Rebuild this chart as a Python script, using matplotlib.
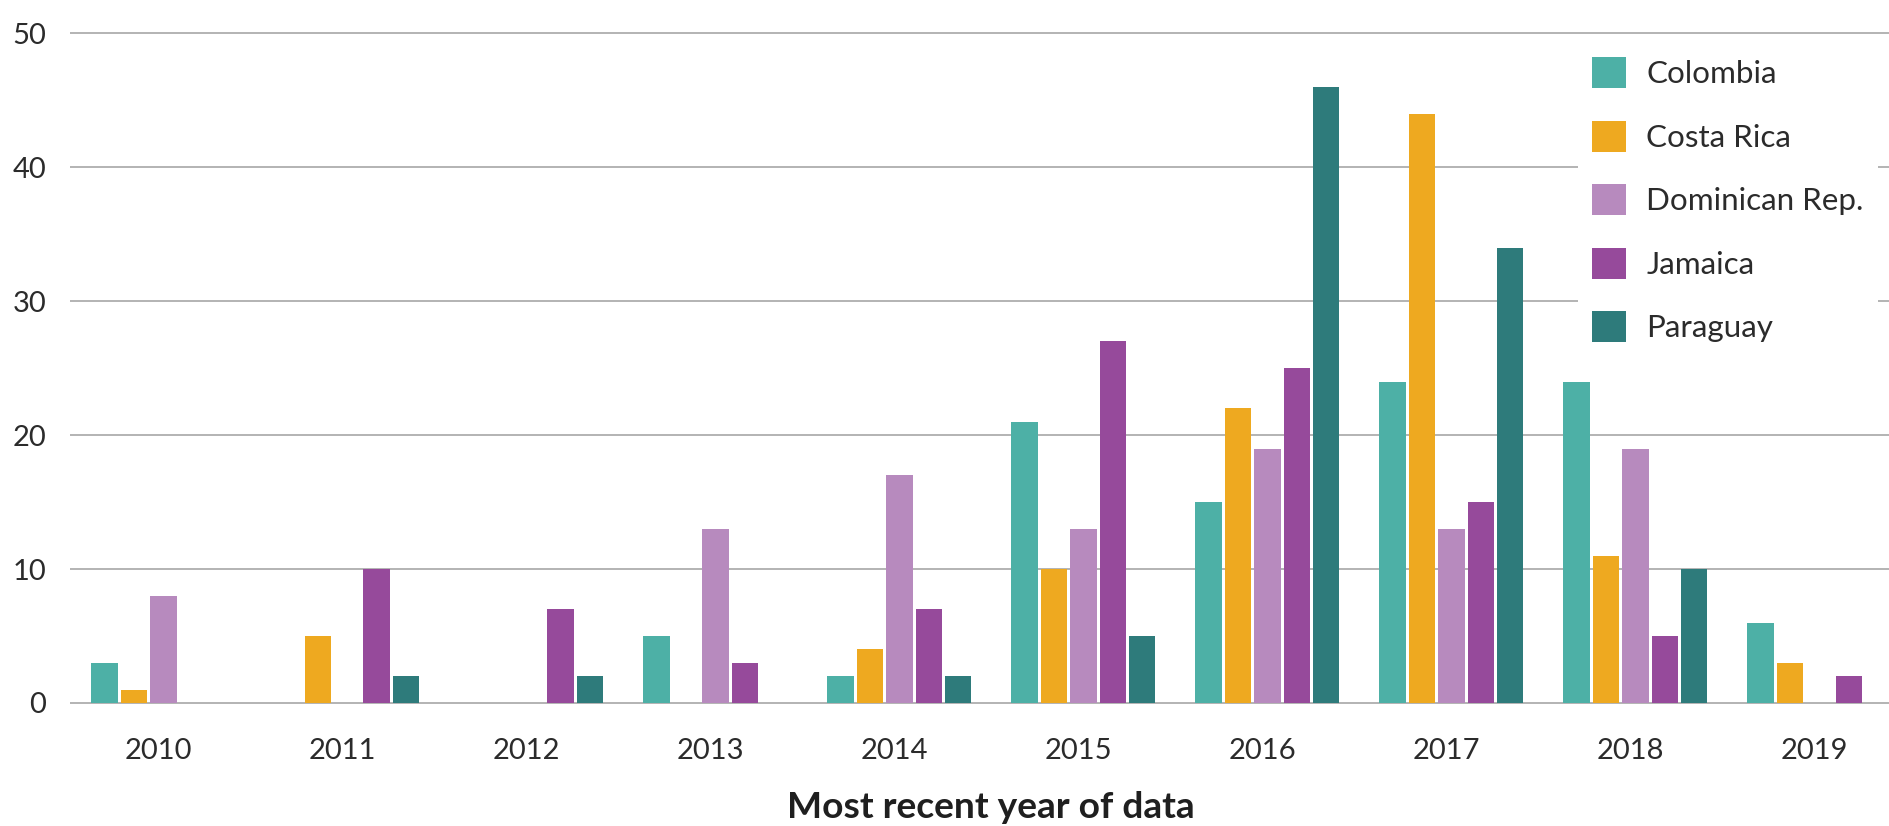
import matplotlib
matplotlib.use("Agg")
import matplotlib.pyplot as plt
import numpy as np
from matplotlib.patches import Patch

years = ["2010", "2011", "2012", "2013", "2014", "2015", "2016", "2017", "2018", "2019"]
countries = ["Colombia", "Costa Rica", "Dominican Rep.", "Jamaica", "Paraguay"]
colombia = [3, 0, 0, 5, 2, 21, 15, 24, 24, 6]
costa_rica = [1, 5, 0, 0, 4, 10, 22, 44, 11, 3]
dominican = [8, 0, 0, 13, 17, 13, 19, 13, 19, 0]
jamaica = [0, 10, 7, 3, 7, 27, 25, 15, 5, 2]
paraguay = [0, 2, 2, 0, 2, 5, 46, 34, 10, 0]
series = [colombia, costa_rica, dominican, jamaica, paraguay]
colors = ["#4DB0A6", "#EEA920", "#B78ABE", "#964A9B", "#2E7B7B"]
yticks = [0, 10, 20, 30, 40, 50]

plt.rcParams['font.family'] = ['Lato', 'DejaVu Sans']
txt = "#2b2b2b"

fig = plt.figure(figsize=(18.9, 8.26), dpi=100)
ax = fig.add_axes([70/1890, (826-707)/826, 1 - 70/1890, (707-26.6)/826])

x = np.arange(len(years))
slot = 0.16
for k, (vals, c) in enumerate(zip(series, colors)):
    ax.bar(x - 2*slot + k*slot, vals, width=slot*0.9, color=c, linewidth=0, zorder=3)

ax.set_xlim(-0.507, 9.384)
ax.set_ylim(-0.3, 50.5)
ax.set_yticks(yticks)
ax.set_yticklabels([str(v) for v in yticks])
ax.set_xticks(x - 0.027)
ax.set_xticklabels(years)
ax.yaxis.grid(True, color="#b3b3b3", linewidth=1.4, zorder=0)
ax.set_axisbelow(True)
for s in ax.spines.values():
    s.set_visible(False)
ax.tick_params(axis="both", length=0, labelsize=21, colors=txt)
ax.tick_params(axis="y", pad=17)
ax.tick_params(axis="x", pad=22)

handles = [Patch(facecolor=c, edgecolor="none") for c in colors]
leg = ax.legend(handles, countries, loc="upper left",
                bbox_to_anchor=(1578/1890, (826-43)/826),
                bbox_transform=fig.transFigure, fontsize=22.6, frameon=True,
                fancybox=False, framealpha=1, facecolor="white", edgecolor="none",
                borderpad=0.45, handlelength=1.08, handleheight=1.15,
                labelspacing=1.03, handletextpad=0.65, borderaxespad=0)
for t in leg.get_texts():
    t.set_color(txt)
leg.set_zorder(5)

fig.text(991/1890, (826-807)/826, "Most recent year of data", ha="center", va="center",
         fontsize=26.7, fontweight="bold", color="#1f1f1f")

fig.savefig("out.png", dpi=100, facecolor="white")
